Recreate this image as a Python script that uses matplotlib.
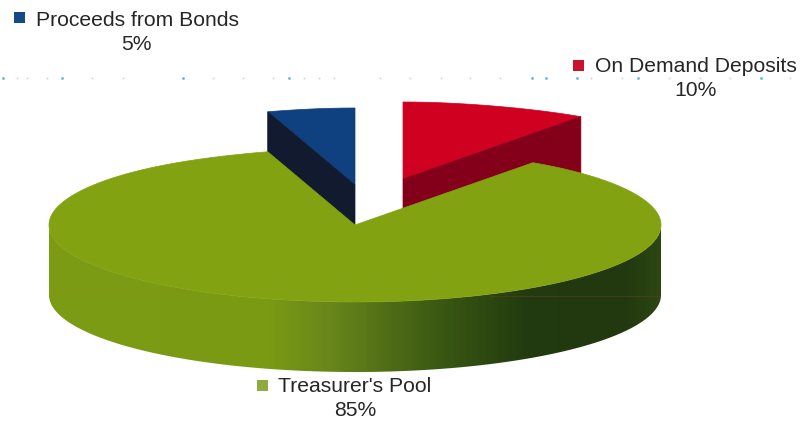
import numpy as np
import matplotlib
matplotlib.use("Agg")
import matplotlib.pyplot as plt
from matplotlib.patches import Polygon, Rectangle
from matplotlib.colors import LinearSegmentedColormap

plt.rcParams['font.family'] = ['Liberation Sans', 'DejaVu Sans']

# ---- data: clockwise from 12 o'clock ----
categories = ["On Demand Deposits", "Treasurer's Pool", "Proceeds from Bonds"]
shares = [10, 85, 5]
pct_labels = ["10%", "85%", "5%"]

# ---- style ----
top_colors = ["#cf0020", "#82a212", "#0f4180"]
cut_colors = ["#84001a", None, "#111a2e"]
key_colors = ["#c8142a", "#8fab40", "#174a84"]
TEXT = "#262626"
CX, CY, RX, RY, DEPTH = 355, 225, 306, 77, 70
offsets = [(48, -46), (0, 0), (0, -40)]

fig = plt.figure(figsize=(8.02, 4.23), dpi=100)
ax = fig.add_axes([0, 0, 1, 1])
ax.axis("off")


def rim(theta_deg):
    """Point on the top rim; theta clockwise from 12 o'clock, slight far-side perspective."""
    t = np.radians(theta_deg)
    narrowing = 1 - 0.14 * np.maximum(np.cos(t), 0) ** 12
    return CX + RX * np.sin(t) * narrowing, CY - RY * np.cos(t)


edges = np.concatenate([[0], np.cumsum(shares)]) * 3.6

# exploded slices, drawn behind the large one
for i in (0, 2):
    dx, dy = offsets[i]
    a = np.linspace(edges[i], edges[i + 1], 40)
    x, y = rim(a)
    x, y = x + dx, y + dy
    ax.add_patch(Polygon(np.r_[[[CX + dx, CY + dy]], np.c_[x, y]], closed=True,
                         fc=top_colors[i], ec=top_colors[i], lw=0.5, zorder=2))
    # cut face that looks towards the viewer
    outer = edges[i + 1] if i == 0 else edges[i]
    ox, oy = rim(outer)
    ox, oy = ox + dx, oy + dy
    ax.add_patch(Polygon([[CX + dx, CY + dy], [ox, oy], [ox, oy + DEPTH], [CX + dx, CY + dy + DEPTH]],
                         closed=True, fc=cut_colors[i], ec=cut_colors[i], lw=0.5, zorder=3))

# front wall of the large slice: a horizontal gradient clipped to the wall outline
wall = LinearSegmentedColormap.from_list("wall", [
    (0.00, "#7c9c14"), (0.36, "#7a9a14"), (0.46, "#68861a"), (0.56, "#4e6c16"),
    (0.66, "#365412"), (0.78, "#233b10"), (0.94, "#22380f"), (1.00, "#2c4612")])
a = np.linspace(270, 90, 240)
xw, yw = rim(a)
gradient = np.linspace(0, 1, 612).reshape(1, -1)
im = ax.imshow(gradient, cmap=wall, aspect="auto", zorder=4, interpolation="bilinear",
               extent=(CX - RX, CX + RX, CY + RY + DEPTH + 2, CY - 2))
clip = Polygon(np.r_[np.c_[xw, yw], np.c_[xw[::-1], yw[::-1] + DEPTH]], closed=True,
               fc="none", ec="none", transform=ax.transData)
ax.add_patch(clip)
im.set_clip_path(clip)

# top of the large slice
a = np.linspace(edges[1], edges[2], 300)
x, y = rim(a)
ax.add_patch(Polygon(np.r_[[[CX, CY]], np.c_[x, y]], closed=True,
                     fc=top_colors[1], ec=top_colors[1], lw=0.5, zorder=5))

# faint scan lines on the wall
ax.plot([490, 660], [296, 296], color="#6a3a18", lw=0.7, alpha=0.6, zorder=6)
ax.plot([50, 190], [291, 293], color="#a08a20", lw=0.7, alpha=0.4, zorder=6)

# dotted scan line at the top
blue_dots = [3, 62, 183, 289, 532, 546, 577, 638, 761]
grey_dots = [17, 27, 47, 92, 123, 213, 243, 273, 304, 319, 334, 380, 410, 441, 470, 500, 591, 622, 669, 700, 730, 790]
ax.scatter(blue_dots, [78] * len(blue_dots), s=4, color="#5cb8e8", lw=0, zorder=1)
ax.scatter(grey_dots, [78] * len(grey_dots), s=2.5, color="#d8dde0", lw=0, zorder=1)

# labels
FS = 15.2
placements = [
    (595, 66, 696, 91, 573, 60),
    (278, 386, 355, 410, 257, 380),
    (36, 20, 136, 44, 14, 12),
]
for i, (tx, ty, px, py, sx, sy) in enumerate(placements):
    ax.add_patch(Rectangle((sx, sy), 11, 11, fc=key_colors[i], ec="none", zorder=7))
    ax.text(tx, ty, categories[i], ha="left", va="center", fontsize=FS, color=TEXT, zorder=7)
    ax.text(px, py, pct_labels[i], ha="center", va="center", fontsize=FS, color=TEXT, zorder=7)

ax.set_xlim(0, 802)
ax.set_ylim(423, 0)
fig.savefig("out.png", dpi=100, facecolor="white")
